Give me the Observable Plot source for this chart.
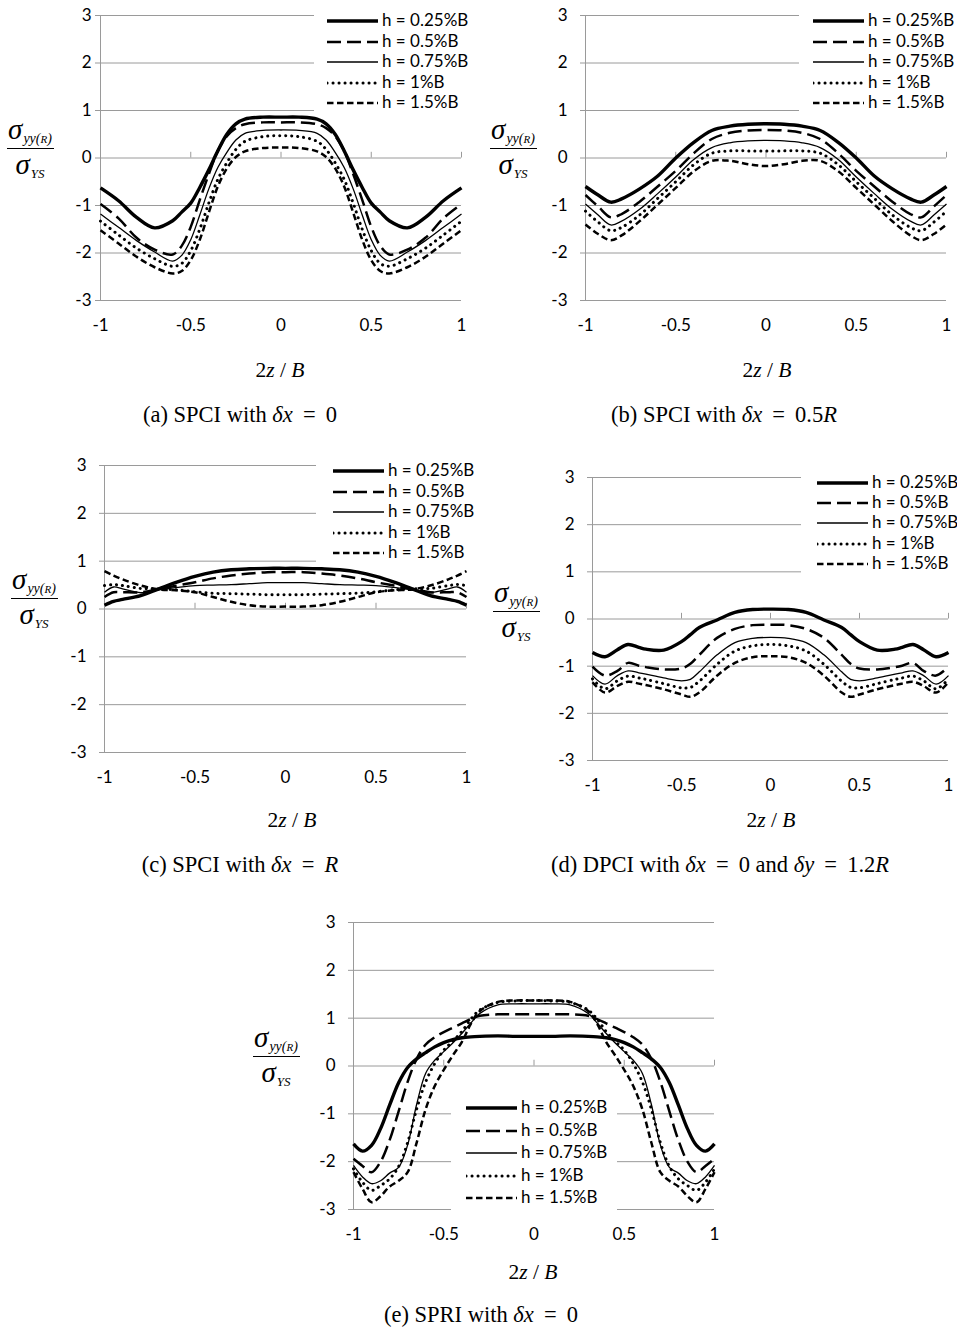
<!DOCTYPE html>
<html>
<head>
<meta charset="utf-8">
<script src="https://cdn.jsdelivr.net/npm/d3@7"></script>
<script src="https://cdn.jsdelivr.net/npm/@observablehq/plot@0.6"></script>
<style>
  html, body { margin: 0; padding: 0; background: #fff; }
  #fig { position: relative; width: 957px; height: 1330px; background: #fff; overflow: hidden; }
  .panel { position: absolute; }
  .panel svg { background: transparent !important; }
  .cap, .xl { position: absolute; width: 400px; text-align: center; font-family: "Liberation Serif", "Times New Roman", serif; color: #000; white-space: nowrap; }
  .cap { font-size: 22.5px; line-height: 26px; }
  .xl { font-size: 21.5px; line-height: 26px; }
  .yl { position: absolute; width: 60px; font-family: "Liberation Serif", serif; font-style: italic; color: #000; text-align: center; }
  .yl .n, .yl .d { height: 24px; line-height: 24px; white-space: nowrap; position: relative; }
  .yl .n { top: -4px; }
  .yl .s { font-size: 29px; }
  .yl .sub { font-size: 14px; position: relative; top: 4px; margin-left: 1px; }
  .yl .bar { height: 1px; background: #000; margin: 3px auto 3px auto; width: 47px; }
  .leg { position: absolute; background: #fff; }
  .legrow { position: absolute; height: 14px; font-family: Lato, "Open Sans", sans-serif; font-size: 17px; line-height: 14px; white-space: nowrap; color: #000; }
  .legrow svg { position: absolute; left: 0; top: 0; }
  .legrow span { position: absolute; left: 55px; top: -1px; }
</style>
</head>
<body>
<div id="fig"></div>
<script>
// ---------- data ----------
const seriesNames = ["h = 0.25%B", "h = 0.5%B", "h = 0.75%B", "h = 1%B", "h = 1.5%B"];
const xTicks = [-1, -0.5, 0, 0.5, 1];
const yTicks = [-3, -2, -1, 0, 1, 2, 3];

// (a) SPCI, dx = 0
const xA = [-1,-0.9,-0.8,-0.7,-0.6,-0.55,-0.5,-0.45,-0.4,-0.35,-0.3,-0.25,-0.2,-0.1,0,0.1,0.2,0.25,0.3,0.35,0.4,0.45,0.5,0.55,0.6,0.7,0.8,0.9,1];
const aS0 = [-0.63,-0.9,-1.25,-1.47,-1.32,-1.14,-0.95,-0.62,-0.25,0.15,0.5,0.72,0.82,0.86,0.86,0.86,0.82,0.72,0.5,0.15,-0.25,-0.62,-0.95,-1.14,-1.32,-1.47,-1.25,-0.9,-0.63];
const aS1 = [-0.97,-1.27,-1.68,-1.93,-2.03,-1.85,-1.45,-0.88,-0.34,0.15,0.46,0.63,0.71,0.75,0.75,0.75,0.71,0.63,0.46,0.15,-0.34,-0.88,-1.45,-1.85,-2.03,-1.93,-1.68,-1.27,-0.97];
const aS2 = [-1.18,-1.46,-1.74,-1.98,-2.17,-2.05,-1.72,-1.2,-0.65,-0.2,0.12,0.38,0.52,0.58,0.59,0.58,0.52,0.38,0.12,-0.2,-0.65,-1.2,-1.72,-2.05,-2.17,-1.98,-1.74,-1.46,-1.18];
const aS3 = [-1.33,-1.62,-1.9,-2.12,-2.28,-2.22,-1.95,-1.5,-0.95,-0.45,-0.1,0.18,0.35,0.45,0.47,0.45,0.35,0.18,-0.1,-0.45,-0.95,-1.5,-1.95,-2.22,-2.28,-2.12,-1.9,-1.62,-1.33];
const aS4 = [-1.52,-1.8,-2.08,-2.3,-2.43,-2.38,-2.15,-1.72,-1.15,-0.6,-0.22,0.02,0.14,0.21,0.22,0.21,0.14,0.02,-0.22,-0.6,-1.15,-1.72,-2.15,-2.38,-2.43,-2.3,-2.08,-1.8,-1.52];

// (b) SPCI, dx = 0.5R
const xB = [-1,-0.93,-0.86,-0.8,-0.7,-0.6,-0.5,-0.4,-0.3,-0.2,-0.1,0,0.1,0.2,0.3,0.4,0.5,0.6,0.7,0.8,0.86,0.93,1];
const bS0 = [-0.6,-0.78,-0.93,-0.86,-0.65,-0.38,0.0,0.33,0.58,0.67,0.71,0.72,0.71,0.67,0.58,0.33,0.0,-0.38,-0.65,-0.86,-0.93,-0.78,-0.6];
const bS1 = [-0.78,-1.02,-1.25,-1.18,-0.92,-0.6,-0.27,0.1,0.4,0.53,0.58,0.59,0.58,0.53,0.4,0.1,-0.27,-0.6,-0.92,-1.18,-1.25,-1.02,-0.78];
const bS2 = [-0.97,-1.2,-1.41,-1.33,-1.08,-0.75,-0.4,-0.03,0.22,0.32,0.36,0.37,0.36,0.32,0.22,-0.03,-0.4,-0.75,-1.08,-1.33,-1.41,-1.2,-0.97];
const bS3 = [-1.12,-1.35,-1.53,-1.46,-1.2,-0.85,-0.5,-0.14,0.1,0.15,0.15,0.15,0.15,0.15,0.1,-0.14,-0.5,-0.85,-1.2,-1.46,-1.53,-1.35,-1.12];
const bS4 = [-1.4,-1.6,-1.73,-1.63,-1.33,-0.98,-0.63,-0.28,-0.06,-0.06,-0.13,-0.17,-0.13,-0.06,-0.06,-0.28,-0.63,-0.98,-1.33,-1.63,-1.73,-1.6,-1.4];

// (c) SPCI, dx = R
const xC = [-1,-0.95,-0.9,-0.8,-0.7,-0.6,-0.5,-0.4,-0.3,-0.2,-0.1,0,0.1,0.2,0.3,0.4,0.5,0.6,0.7,0.8,0.9,0.95,1];
const cS0 = [0.08,0.16,0.2,0.28,0.42,0.56,0.68,0.77,0.82,0.84,0.85,0.85,0.85,0.84,0.82,0.77,0.68,0.56,0.42,0.28,0.2,0.16,0.08];
const cS1 = [0.25,0.35,0.35,0.35,0.42,0.49,0.56,0.64,0.7,0.74,0.77,0.77,0.77,0.74,0.7,0.64,0.56,0.49,0.42,0.35,0.35,0.35,0.25];
const cS2 = [0.35,0.46,0.42,0.34,0.4,0.45,0.49,0.5,0.51,0.53,0.55,0.55,0.55,0.53,0.51,0.5,0.49,0.45,0.4,0.34,0.42,0.46,0.35];
const cS3 = [0.49,0.51,0.49,0.43,0.42,0.4,0.36,0.33,0.32,0.31,0.3,0.3,0.3,0.31,0.32,0.33,0.36,0.4,0.42,0.43,0.49,0.51,0.49];
const cS4 = [0.79,0.7,0.62,0.49,0.41,0.39,0.35,0.25,0.15,0.08,0.05,0.05,0.05,0.08,0.15,0.25,0.35,0.39,0.41,0.49,0.62,0.7,0.79];

// (d) DPCI, dx = 0, dy = 1.2R
const xD = [-1,-0.93,-0.86,-0.8,-0.74,-0.7,-0.6,-0.5,-0.45,-0.4,-0.3,-0.2,-0.1,0,0.1,0.2,0.3,0.4,0.45,0.5,0.6,0.7,0.74,0.8,0.86,0.93,1];
const dS0 = [-0.71,-0.8,-0.65,-0.54,-0.6,-0.64,-0.66,-0.48,-0.33,-0.18,-0.02,0.14,0.2,0.21,0.2,0.14,-0.02,-0.18,-0.33,-0.48,-0.66,-0.64,-0.6,-0.54,-0.65,-0.8,-0.71];
const dS1 = [-1.01,-1.2,-1.1,-0.93,-0.99,-1.02,-1.07,-1.05,-0.95,-0.76,-0.4,-0.21,-0.13,-0.12,-0.13,-0.21,-0.4,-0.76,-0.95,-1.05,-1.07,-1.02,-0.99,-0.93,-1.1,-1.2,-1.01];
const dS2 = [-1.2,-1.38,-1.2,-1.1,-1.14,-1.17,-1.25,-1.31,-1.28,-1.12,-0.76,-0.5,-0.41,-0.39,-0.41,-0.5,-0.76,-1.12,-1.28,-1.31,-1.25,-1.17,-1.14,-1.1,-1.2,-1.38,-1.2];
const dS3 = [-1.27,-1.48,-1.31,-1.21,-1.25,-1.28,-1.37,-1.46,-1.45,-1.32,-0.96,-0.68,-0.57,-0.54,-0.57,-0.68,-0.96,-1.32,-1.45,-1.46,-1.37,-1.28,-1.25,-1.21,-1.31,-1.48,-1.27];
const dS4 = [-1.34,-1.56,-1.42,-1.33,-1.37,-1.4,-1.49,-1.6,-1.65,-1.56,-1.2,-0.93,-0.81,-0.79,-0.81,-0.93,-1.2,-1.56,-1.65,-1.6,-1.49,-1.4,-1.37,-1.33,-1.42,-1.56,-1.34];

// (e) SPRI, dx = 0
const xE = [-1,-0.95,-0.9,-0.85,-0.8,-0.75,-0.7,-0.65,-0.6,-0.55,-0.5,-0.45,-0.4,-0.35,-0.3,-0.2,-0.1,0,0.1,0.2,0.3,0.35,0.4,0.45,0.5,0.55,0.6,0.65,0.7,0.75,0.8,0.85,0.9,0.95,1];
const eS0 = [-1.63,-1.78,-1.66,-1.31,-0.82,-0.35,-0.03,0.15,0.28,0.4,0.49,0.55,0.59,0.61,0.62,0.63,0.62,0.62,0.62,0.63,0.62,0.61,0.59,0.55,0.49,0.4,0.28,0.15,-0.03,-0.35,-0.82,-1.31,-1.66,-1.78,-1.63];
const eS1 = [-1.94,-2.09,-2.22,-2.0,-1.55,-0.95,-0.33,0.15,0.45,0.6,0.71,0.8,0.89,0.98,1.05,1.08,1.08,1.08,1.08,1.08,1.05,0.98,0.89,0.8,0.71,0.6,0.45,0.15,-0.33,-0.95,-1.55,-2.0,-2.22,-2.09,-1.94];
const eS2 = [-2.08,-2.32,-2.46,-2.4,-2.24,-2.12,-1.65,-0.8,-0.15,0.12,0.3,0.48,0.68,0.9,1.1,1.28,1.3,1.3,1.3,1.28,1.1,0.9,0.68,0.48,0.3,0.12,-0.15,-0.8,-1.65,-2.12,-2.24,-2.4,-2.46,-2.32,-2.08];
const eS3 = [-2.15,-2.43,-2.6,-2.5,-2.36,-2.1,-1.6,-0.9,-0.33,0.05,0.33,0.52,0.72,0.98,1.17,1.33,1.36,1.37,1.36,1.33,1.17,0.98,0.72,0.52,0.33,0.05,-0.33,-0.9,-1.6,-2.1,-2.36,-2.5,-2.6,-2.43,-2.15];
const eS4 = [-2.22,-2.57,-2.85,-2.72,-2.52,-2.4,-2.22,-1.6,-0.9,-0.42,-0.08,0.22,0.5,0.88,1.15,1.34,1.37,1.37,1.37,1.34,1.15,0.88,0.5,0.22,-0.08,-0.42,-0.9,-1.6,-2.22,-2.4,-2.52,-2.72,-2.85,-2.57,-2.22];

const captions = [
  "(a) SPCI with <i>δx</i>&nbsp;&thinsp;=&nbsp;&thinsp;0",
  "(b) SPCI with <i>δx</i>&nbsp;&thinsp;=&nbsp;&thinsp;0.5<i>R</i>",
  "(c) SPCI with <i>δx</i>&nbsp;&thinsp;=&nbsp;&thinsp;<i>R</i>",
  "(d) DPCI with <i>δx</i>&nbsp;&thinsp;=&nbsp;&thinsp;0 and <i>δy</i>&nbsp;&thinsp;=&nbsp;&thinsp;1.2<i>R</i>",
  "(e) SPRI with <i>δx</i>&nbsp;&thinsp;=&nbsp;&thinsp;0"
];

// ---------- styles / layout ----------
const lineStyles = [
  {strokeWidth: 3.4, strokeDasharray: null, strokeLinecap: "butt"},
  {strokeWidth: 2.5, strokeDasharray: "14,6", strokeLinecap: "butt"},
  {strokeWidth: 1.3, strokeDasharray: null, strokeLinecap: "butt"},
  {strokeWidth: 3, strokeDasharray: "0.1,5.9", strokeLinecap: "round"},
  {strokeWidth: 2.5, strokeDasharray: "6.5,3.5", strokeLinecap: "butt"}
];
const gridColor = "#9a9a9a";

const panels = [
  {xs: xA, ys: [aS0, aS1, aS2, aS3, aS4], left: 0,   top: 0,   w: 480, mL: 100, pW: 361, mT: 15, pH: 285, yPad: 4,
   cap: [240, 415], xl: [280, 370], yl: [30, 148], leg: {box: [314, 7, 475, 113], x: 327, y: 21, step: 20.5}},
  {xs: xB, ys: [bS0, bS1, bS2, bS3, bS4], left: 478, top: 0,   w: 479, mL: 107, pW: 361, mT: 15, pH: 285, yPad: 13,
   cap: [724, 415], xl: [767, 370], yl: [513, 148], leg: {box: [799, 7, 957, 113], x: 813, y: 21, step: 20.5}},
  {xs: xC, ys: [cS0, cS1, cS2, cS3, cS4], left: 0,   top: 450, w: 480, mL: 104, pW: 362, mT: 15, pH: 287, yPad: 13,
   cap: [240, 865], xl: [292, 820], yl: [34, 598], leg: {box: [316, 457, 478, 564], x: 333, y: 471, step: 20.5}},
  {xs: xD, ys: [dS0, dS1, dS2, dS3, dS4], left: 478, top: 462, w: 479, mL: 114, pW: 356, mT: 15, pH: 283, yPad: 13,
   cap: [720, 865], xl: [771, 820], yl: [516, 611], leg: {box: [801, 469, 957, 574], x: 817, y: 483, step: 20.2}},
  {xs: xE, ys: [eS0, eS1, eS2, eS3, eS4], left: 240, top: 907, w: 490, mL: 113, pW: 361, mT: 15, pH: 287, yPad: 13,
   cap: [481, 1315], xl: [533, 1272], yl: [276, 1056], leg: {box: [451, 1094, 617, 1213], x: 466, y: 1108, step: 22.6}}
];

const fig = document.getElementById("fig");
const fmt = d => String(d);

panels.forEach((p, pi) => {
  const marks = [
    Plot.ruleY(yTicks, {stroke: gridColor, strokeWidth: 1}),
    Plot.ruleX([-1], {stroke: gridColor, strokeWidth: 1}),
    Plot.ruleX(xTicks.slice(1), {y1: 0, y2: 0.12, stroke: gridColor, strokeWidth: 1}),
    Plot.axisY(yTicks, {tickSize: 5, tickPadding: p.yPad, stroke: gridColor, fill: "black", tickFormat: fmt, fontSize: 17, label: null}),
    Plot.axisX(xTicks, {tickSize: 0, tickPadding: 18, fill: "black", tickFormat: fmt, fontSize: 17, label: null})
  ];
  p.ys.forEach((ys, si) => {
    const data = p.xs.map((x, i) => ({x, y: ys[i]}));
    const st = lineStyles[si];
    const o = {x: "x", y: "y", curve: "catmull-rom", stroke: "black", strokeWidth: st.strokeWidth, strokeLinecap: st.strokeLinecap, strokeLinejoin: "round"};
    if (st.strokeDasharray) o.strokeDasharray = st.strokeDasharray;
    marks.push(Plot.line(data, o));
  });
  const chart = Plot.plot({
    width: p.w,
    height: p.mT + p.pH + 45,
    marginLeft: p.mL,
    marginRight: p.w - p.mL - p.pW,
    marginTop: p.mT,
    marginBottom: 45,
    style: {background: "transparent", fontFamily: "Lato, 'Open Sans', sans-serif", fontSize: "17px", color: "black", overflow: "visible"},
    x: {domain: [-1, 1], axis: null},
    y: {domain: [-3, 3], axis: null},
    marks
  });
  const holder = document.createElement("div");
  holder.className = "panel";
  holder.style.left = p.left + "px";
  holder.style.top = p.top + "px";
  holder.appendChild(chart);
  fig.appendChild(holder);

  // legend
  const lg = document.createElement("div");
  lg.className = "leg";
  lg.style.left = p.leg.box[0] + "px";
  lg.style.top = p.leg.box[1] + "px";
  lg.style.width = (p.leg.box[2] - p.leg.box[0]) + "px";
  lg.style.height = (p.leg.box[3] - p.leg.box[1]) + "px";
  fig.appendChild(lg);
  seriesNames.forEach((name, si) => {
    const row = document.createElement("div");
    row.className = "legrow";
    const cy = p.leg.y + si * p.leg.step;
    row.style.left = (p.leg.x - p.leg.box[0]) + "px";
    row.style.top = (cy - 7 - p.leg.box[1]) + "px";
    const st = lineStyles[si];
    const svg = d3.create("svg").attr("width", 52).attr("height", 14);
    svg.append("line").attr("x1", 0).attr("x2", 51).attr("y1", 7).attr("y2", 7)
      .attr("stroke", "black").attr("stroke-width", st.strokeWidth)
      .attr("stroke-linecap", st.strokeLinecap)
      .attr("stroke-dasharray", st.strokeDasharray);
    row.appendChild(svg.node());
    const sp = document.createElement("span");
    sp.textContent = name;
    row.appendChild(sp);
    lg.appendChild(row);
  });

  // y label (fraction)
  const yl = document.createElement("div");
  yl.className = "yl";
  yl.style.left = (p.yl[0] - 30) + "px";
  yl.style.top = (p.yl[1] - 27) + "px";
  yl.innerHTML = '<div class="n"><span class="s">σ</span><span class="sub">yy(<span style="font-size:11px">R</span>)</span></div>' +
                 '<div class="bar"></div>' +
                 '<div class="d"><span class="s">σ</span><span class="sub" style="font-size:13px">YS</span></div>';
  fig.appendChild(yl);

  // x label
  const xl = document.createElement("div");
  xl.className = "xl";
  xl.style.left = (p.xl[0] - 200) + "px";
  xl.style.top = (p.xl[1] - 13) + "px";
  xl.innerHTML = '2<i>z</i> / <i>B</i>';
  fig.appendChild(xl);

  // caption
  const cp = document.createElement("div");
  cp.className = "cap";
  cp.style.left = (p.cap[0] - 200) + "px";
  cp.style.top = (p.cap[1] - 13) + "px";
  cp.innerHTML = captions[pi];
  fig.appendChild(cp);
});
</script>
</body>
</html>
